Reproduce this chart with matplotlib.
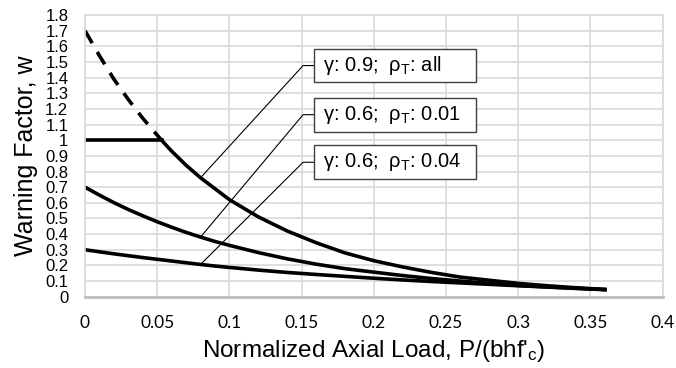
import matplotlib
matplotlib.use("Agg")
import matplotlib.pyplot as plt
from matplotlib.patches import Rectangle

plt.rcParams['font.family'] = ['Liberation Sans', 'DejaVu Sans']
plt.rcParams['mathtext.default'] = 'regular'

# ---- data ----
x_dash = [0.0, 0.01, 0.02, 0.03, 0.04, 0.053]
w_dash = [1.70, 1.54, 1.39, 1.26, 1.14, 1.00]

x_cap = [0.0, 0.053]
w_cap = [1.0, 1.0]

x_g09 = [0.053, 0.06, 0.07, 0.08, 0.09, 0.10, 0.12, 0.14, 0.16, 0.18, 0.20, 0.22, 0.24,
         0.26, 0.28, 0.30, 0.32, 0.34, 0.36]
w_g09 = [1.00, 0.93, 0.84, 0.76, 0.69, 0.62, 0.51, 0.42, 0.345, 0.28, 0.23, 0.19, 0.155,
         0.125, 0.105, 0.085, 0.07, 0.057, 0.046]

x_g06 = [0.0, 0.01, 0.02, 0.03, 0.04, 0.05, 0.06, 0.07, 0.08, 0.09, 0.10, 0.12, 0.14,
         0.16, 0.18, 0.20, 0.22, 0.24, 0.26, 0.28, 0.30, 0.32, 0.34, 0.36]
w_g06_r001 = [0.70, 0.649, 0.601, 0.557, 0.517, 0.479, 0.444, 0.411, 0.381, 0.353, 0.328,
              0.282, 0.242, 0.208, 0.179, 0.157, 0.135, 0.116, 0.100, 0.085, 0.072,
              0.062, 0.053, 0.045]
w_g06_r004 = [0.30, 0.287, 0.274, 0.262, 0.250, 0.239, 0.228, 0.217, 0.206, 0.196, 0.187,
              0.170, 0.155, 0.142, 0.130, 0.118, 0.107, 0.097, 0.088, 0.079, 0.070,
              0.062, 0.054, 0.046]

labels = ["γ: 0.9;  ρ$_T$: all", "γ: 0.6;  ρ$_T$: 0.01", "γ: 0.6;  ρ$_T$: 0.04"]
label_targets = [(x_g09, w_g09), (x_g06, w_g06_r001), (x_g06, w_g06_r004)]
label_x_index = [3, 8, 8]  # point at P/(bhf'c) = 0.08

xticks = [0, 0.05, 0.1, 0.15, 0.2, 0.25, 0.3, 0.35, 0.4]
xticklabels = ["0", "0.05", "0.1", "0.15", "0.2", "0.25", "0.3", "0.35", "0.4"]
yticks = [round(0.1 * i, 1) for i in range(19)]
yticklabels = ["0", "0.1", "0.2", "0.3", "0.4", "0.5", "0.6", "0.7", "0.8", "0.9", "1",
               "1.1", "1.2", "1.3", "1.4", "1.5", "1.6", "1.7", "1.8"]

# ---- figure ----
fig = plt.figure(figsize=(6.76, 3.68), dpi=100)
ax = fig.add_axes([85 / 676, 1 - 296.7 / 368, (662.7 - 85) / 676, (296.7 - 15) / 368])
ax.set_xlim(0, 0.4)
ax.set_ylim(0, 1.8)

grid_c = '#d9d9d9'
ax.set_xticks(xticks)
ax.set_xticklabels(xticklabels, fontfamily='Lato', fontsize=12.5)
ax.set_yticks(yticks)
ax.set_yticklabels(yticklabels, fontsize=12)
ax.tick_params(axis='both', length=0)
ax.tick_params(axis='x', pad=13)
ax.tick_params(axis='y', pad=12)
ax.grid(True, color=grid_c, linewidth=1.2)
ax.set_axisbelow(True)
for s in ['top', 'right', 'left']:
    ax.spines[s].set_color(grid_c)
    ax.spines[s].set_linewidth(1.2)
ax.spines['bottom'].set_color('#bfbfbf')
ax.spines['bottom'].set_linewidth(2.0)

lw = 2.6
ax.plot(x_dash, w_dash, color='black', lw=lw, linestyle=(0, (4.0, 2.8)), solid_capstyle='butt')
ax.plot(x_cap, w_cap, color='black', lw=lw)
ax.plot(x_g09, w_g09, color='black', lw=lw)
ax.plot(x_g06, w_g06_r001, color='black', lw=lw)
ax.plot(x_g06, w_g06_r004, color='black', lw=lw)

# ---- callouts ----
box_left = 0.1586
box_w = 0.1122
box_h = 0.215
stub_x = 0.151
box_cy = [1.477, 1.163, 0.859]
for lab, (xs, ws), idx, cy in zip(labels, label_targets, label_x_index, box_cy):
    px, py = xs[idx], ws[idx]
    ax.plot([px, stub_x, box_left], [py, cy, cy], color='black', lw=0.8, zorder=4)
    ax.add_patch(Rectangle((box_left, cy - box_h / 2), box_w, box_h, facecolor='white',
                           edgecolor='#404040', lw=1.0, zorder=5))
    ax.text(box_left + 0.0060, cy, lab, fontsize=14.5, ha='left', va='center', zorder=6)

ax.set_xlabel("Normalized Axial Load, P/(bhf'$_c$)", fontsize=17.5, labelpad=5)
ax.set_ylabel("Warning Factor, w", fontsize=18, labelpad=5)

fig.savefig("out.png", dpi=100)
